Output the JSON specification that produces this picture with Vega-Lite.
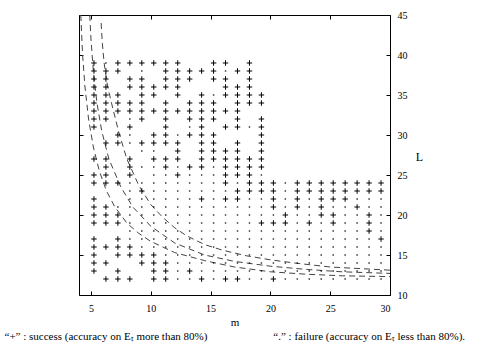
{
  "$schema": "https://vega.github.io/schema/vega-lite/v6.json",
  "width": 311,
  "height": 280,
  "autosize": "none",
  "padding": {"left": 79, "top": 15, "right": 97, "bottom": 50},
  "background": "white",
  "config": {
    "view": {"stroke": "black", "strokeWidth": 1},
    "font": "Liberation Serif",
    "axis": {"labelFont": "Liberation Serif", "titleFont": "Liberation Serif", "labelFontSize": 10, "labelColor": "black", "domain": false, "grid": false, "tickColor": "black", "tickWidth": 1, "titleFontWeight": "normal", "titleColor": "black"}
  },
  "title": {
    "text": "“+” : success (accuracy on Eₜ more than 80%)\u00a0\u00a0\u00a0\u00a0\u00a0\u00a0\u00a0\u00a0\u00a0\u00a0\u00a0\u00a0\u00a0\u00a0\u00a0\u00a0\u00a0\u00a0\u00a0\u00a0\u00a0\u00a0\u00a0\u00a0“.” : failure (accuracy on Eₜ less than 80%).",
    "orient": "bottom", "anchor": "start", "dx": -74, "offset": 4,
    "fontSize": 11, "font": "Liberation Serif", "fontWeight": "normal", "color": "black"
  },
  "datasets": {
    "curves": [
      {"c":"a","m":4.15,"L":45},{"c":"a","m":4.3,"L":40},{"c":"a","m":4.5,"L":36},{"c":"a","m":4.8,"L":32},{"c":"a","m":5.2,"L":28.5},{"c":"a","m":5.7,"L":25.5},{"c":"a","m":6.3,"L":23},{"c":"a","m":7,"L":21},{"c":"a","m":8,"L":19},{"c":"a","m":9,"L":17.7},{"c":"a","m":10,"L":16.7},{"c":"a","m":12,"L":15.3},{"c":"a","m":14.5,"L":14.3},{"c":"a","m":17,"L":13.5},{"c":"a","m":20,"L":12.9},{"c":"a","m":23,"L":12.6},{"c":"a","m":26,"L":12.4},{"c":"a","m":30,"L":12.3},
      {"c":"b","m":4.9,"L":45},{"c":"b","m":5.0,"L":42},{"c":"b","m":5.2,"L":38},{"c":"b","m":5.5,"L":34},{"c":"b","m":5.9,"L":30.5},{"c":"b","m":6.5,"L":27},{"c":"b","m":7.5,"L":23.5},{"c":"b","m":8.5,"L":21},{"c":"b","m":10,"L":18.6},{"c":"b","m":12,"L":16.5},{"c":"b","m":14.5,"L":15},{"c":"b","m":17,"L":14.2},{"c":"b","m":20,"L":13.6},{"c":"b","m":23,"L":13.2},{"c":"b","m":26,"L":12.9},{"c":"b","m":30,"L":12.7},
      {"c":"c","m":5.85,"L":44},{"c":"c","m":5.95,"L":41.5},{"c":"c","m":6.1,"L":39},{"c":"c","m":6.4,"L":36},{"c":"c","m":6.8,"L":33.5},{"c":"c","m":7.3,"L":30.5},{"c":"c","m":8,"L":27},{"c":"c","m":9,"L":23.7},{"c":"c","m":10,"L":21.3},{"c":"c","m":11,"L":19.7},{"c":"c","m":12,"L":18.4},{"c":"c","m":13,"L":17.4},{"c":"c","m":14.5,"L":16.3},{"c":"c","m":16,"L":15.6},{"c":"c","m":18,"L":14.9},{"c":"c","m":20,"L":14.4},{"c":"c","m":22,"L":14},{"c":"c","m":25,"L":13.5},{"c":"c","m":30,"L":13.1}
    ],
    "plus": [
      {"m":5,"L":39},{"m":7,"L":39},{"m":8,"L":39},{"m":9,"L":39},{"m":10,"L":39},{"m":11,"L":39},{"m":12,"L":39},{"m":15,"L":39},{"m":16,"L":39},{"m":18,"L":39},
      {"m":5,"L":38},{"m":6,"L":38},{"m":7,"L":38},{"m":11,"L":38},{"m":12,"L":38},{"m":13,"L":38},{"m":14,"L":38},{"m":15,"L":38},{"m":17,"L":38},{"m":18,"L":38},
      {"m":5,"L":37},{"m":6,"L":37},{"m":8,"L":37},{"m":9,"L":37},{"m":11,"L":37},{"m":12,"L":37},{"m":13,"L":37},{"m":15,"L":37},{"m":16,"L":37},{"m":18,"L":37},
      {"m":5,"L":36},{"m":6,"L":36},{"m":8,"L":36},{"m":9,"L":36},{"m":10,"L":36},{"m":11,"L":36},{"m":12,"L":36},{"m":16,"L":36},{"m":17,"L":36},{"m":18,"L":36},
      {"m":5,"L":35},{"m":6,"L":35},{"m":7,"L":35},{"m":9,"L":35},{"m":10,"L":35},{"m":12,"L":35},{"m":14,"L":35},{"m":16,"L":35},{"m":17,"L":35},{"m":18,"L":35},{"m":19,"L":35},
      {"m":5,"L":34},{"m":6,"L":34},{"m":7,"L":34},{"m":8,"L":34},{"m":9,"L":34},{"m":11,"L":34},{"m":13,"L":34},{"m":14,"L":34},{"m":15,"L":34},{"m":17,"L":34},{"m":18,"L":34},{"m":19,"L":34},
      {"m":5,"L":33},{"m":6,"L":33},{"m":7,"L":33},{"m":8,"L":33},{"m":9,"L":33},{"m":10,"L":33},{"m":11,"L":33},{"m":12,"L":33},{"m":13,"L":33},{"m":14,"L":33},{"m":15,"L":33},{"m":16,"L":33},{"m":17,"L":33},
      {"m":5,"L":32},{"m":6,"L":32},{"m":9,"L":32},{"m":11,"L":32},{"m":13,"L":32},{"m":14,"L":32},{"m":15,"L":32},{"m":17,"L":32},{"m":19,"L":32},
      {"m":5,"L":31},{"m":8,"L":31},{"m":11,"L":31},{"m":14,"L":31},{"m":16,"L":31},{"m":17,"L":31},{"m":19,"L":31},
      {"m":7,"L":30},{"m":10,"L":30},{"m":11,"L":30},{"m":13,"L":30},{"m":14,"L":30},{"m":15,"L":30},{"m":19,"L":30},
      {"m":6,"L":29},{"m":7,"L":29},{"m":9,"L":29},{"m":10,"L":29},{"m":11,"L":29},{"m":12,"L":29},{"m":14,"L":29},{"m":15,"L":29},{"m":17,"L":29},{"m":19,"L":29},
      {"m":12,"L":28},{"m":14,"L":28},{"m":15,"L":28},{"m":16,"L":28},{"m":17,"L":28},{"m":19,"L":28},
      {"m":5,"L":27},{"m":6,"L":27},{"m":8,"L":27},{"m":10,"L":27},{"m":11,"L":27},{"m":12,"L":27},{"m":14,"L":27},{"m":15,"L":27},{"m":16,"L":27},{"m":17,"L":27},{"m":18,"L":27},{"m":19,"L":27},
      {"m":6,"L":26},{"m":8,"L":26},{"m":11,"L":26},{"m":13,"L":26},{"m":14,"L":26},{"m":16,"L":26},{"m":17,"L":26},{"m":18,"L":26},{"m":19,"L":26},
      {"m":5,"L":25},{"m":6,"L":25},{"m":8,"L":25},{"m":12,"L":25},{"m":16,"L":25},{"m":17,"L":25},{"m":18,"L":25},
      {"m":5,"L":24},{"m":6,"L":24},{"m":7,"L":24},{"m":16,"L":24},{"m":18,"L":24},{"m":19,"L":24},{"m":20,"L":24},{"m":22,"L":24},{"m":23,"L":24},{"m":24,"L":24},{"m":25,"L":24},{"m":26,"L":24},{"m":27,"L":24},{"m":28,"L":24},{"m":29,"L":24},
      {"m":9,"L":23},{"m":17,"L":23},{"m":18,"L":23},{"m":19,"L":23},{"m":20,"L":23},{"m":22,"L":23},{"m":23,"L":23},{"m":24,"L":23},{"m":25,"L":23},{"m":26,"L":23},{"m":27,"L":23},{"m":28,"L":23},{"m":29,"L":23},
      {"m":5,"L":22},{"m":14,"L":22},{"m":16,"L":22},{"m":17,"L":22},{"m":20,"L":22},{"m":22,"L":22},{"m":24,"L":22},{"m":25,"L":22},{"m":26,"L":22},
      {"m":5,"L":21},{"m":6,"L":21},{"m":20,"L":21},{"m":22,"L":21},{"m":24,"L":21},{"m":27,"L":21},
      {"m":5,"L":20},{"m":6,"L":20},{"m":7,"L":20},{"m":21,"L":20},{"m":24,"L":20},{"m":25,"L":20},{"m":28,"L":20},
      {"m":5,"L":19},{"m":6,"L":19},{"m":7,"L":19},{"m":19,"L":19},{"m":20,"L":19},{"m":21,"L":19},{"m":23,"L":19},{"m":25,"L":19},{"m":28,"L":19},
      {"m":28,"L":18},
      {"m":5,"L":17},{"m":7,"L":17},{"m":29,"L":17},
      {"m":5,"L":16},{"m":6,"L":16},{"m":7,"L":16},{"m":8,"L":16},
      {"m":5,"L":15},{"m":7,"L":15},{"m":8,"L":15},{"m":9,"L":15},{"m":10,"L":15},
      {"m":5,"L":14},{"m":6,"L":14},{"m":9,"L":14},{"m":10,"L":14},{"m":11,"L":14},
      {"m":5,"L":13},{"m":7,"L":13},{"m":10,"L":13},{"m":11,"L":13},{"m":13,"L":13},
      {"m":6,"L":12},{"m":7,"L":12},{"m":8,"L":12},{"m":10,"L":12},{"m":11,"L":12},{"m":14,"L":12},{"m":16,"L":12},{"m":17,"L":12},{"m":20,"L":12}
    ],
    "dot": [
      {"m":6,"L":39},{"m":9,"L":38},{"m":16,"L":38},{"m":15,"L":35},{"m":8,"L":32},{"m":13,"L":31},{"m":18,"L":31},{"m":8,"L":30},{"m":12,"L":30},{"m":8,"L":29},{"m":9,"L":28},{"m":10,"L":28},
      {"m":9,"L":26},{"m":10,"L":26},{"m":12,"L":26},{"m":15,"L":26},
      {"m":10,"L":25},{"m":11,"L":25},{"m":13,"L":25},{"m":14,"L":25},{"m":15,"L":25},{"m":19,"L":25},
      {"m":8,"L":24},{"m":9,"L":24},{"m":10,"L":24},{"m":11,"L":24},{"m":12,"L":24},{"m":13,"L":24},{"m":14,"L":24},{"m":15,"L":24},{"m":17,"L":24},{"m":21,"L":24},
      {"m":8,"L":23},{"m":10,"L":23},{"m":11,"L":23},{"m":12,"L":23},{"m":13,"L":23},{"m":14,"L":23},{"m":15,"L":23},{"m":16,"L":23},{"m":21,"L":23},
      {"m":8,"L":22},{"m":9,"L":22},{"m":10,"L":22},{"m":11,"L":22},{"m":12,"L":22},{"m":13,"L":22},{"m":15,"L":22},{"m":18,"L":22},{"m":19,"L":22},{"m":21,"L":22},{"m":23,"L":22},{"m":27,"L":22},{"m":28,"L":22},{"m":29,"L":22},
      {"m":7,"L":21},{"m":8,"L":21},{"m":9,"L":21},{"m":10,"L":21},{"m":11,"L":21},{"m":12,"L":21},{"m":13,"L":21},{"m":14,"L":21},{"m":15,"L":21},{"m":16,"L":21},{"m":17,"L":21},{"m":18,"L":21},{"m":19,"L":21},{"m":21,"L":21},{"m":23,"L":21},{"m":25,"L":21},{"m":26,"L":21},{"m":28,"L":21},{"m":29,"L":21},
      {"m":8,"L":20},{"m":9,"L":20},{"m":10,"L":20},{"m":11,"L":20},{"m":12,"L":20},{"m":13,"L":20},{"m":14,"L":20},{"m":15,"L":20},{"m":16,"L":20},{"m":17,"L":20},{"m":18,"L":20},{"m":19,"L":20},{"m":20,"L":20},{"m":22,"L":20},{"m":23,"L":20},{"m":26,"L":20},{"m":27,"L":20},{"m":29,"L":20},
      {"m":8,"L":19},{"m":9,"L":19},{"m":10,"L":19},{"m":11,"L":19},{"m":12,"L":19},{"m":13,"L":19},{"m":14,"L":19},{"m":15,"L":19},{"m":16,"L":19},{"m":17,"L":19},{"m":18,"L":19},{"m":22,"L":19},{"m":24,"L":19},{"m":26,"L":19},{"m":27,"L":19},{"m":29,"L":19},
      {"m":8,"L":18},{"m":9,"L":18},{"m":10,"L":18},{"m":11,"L":18},{"m":12,"L":18},{"m":13,"L":18},{"m":14,"L":18},{"m":15,"L":18},{"m":16,"L":18},{"m":17,"L":18},{"m":18,"L":18},{"m":19,"L":18},{"m":20,"L":18},{"m":21,"L":18},{"m":22,"L":18},{"m":23,"L":18},{"m":24,"L":18},{"m":25,"L":18},{"m":26,"L":18},{"m":27,"L":18},{"m":29,"L":18},
      {"m":8,"L":17},{"m":9,"L":17},{"m":10,"L":17},{"m":11,"L":17},{"m":12,"L":17},{"m":13,"L":17},{"m":14,"L":17},{"m":15,"L":17},{"m":16,"L":17},{"m":17,"L":17},{"m":18,"L":17},{"m":19,"L":17},{"m":20,"L":17},{"m":21,"L":17},{"m":22,"L":17},{"m":23,"L":17},{"m":24,"L":17},{"m":25,"L":17},{"m":26,"L":17},{"m":27,"L":17},{"m":28,"L":17},
      {"m":9,"L":16},{"m":10,"L":16},{"m":11,"L":16},{"m":12,"L":16},{"m":13,"L":16},{"m":14,"L":16},{"m":15,"L":16},{"m":16,"L":16},{"m":17,"L":16},{"m":18,"L":16},{"m":19,"L":16},{"m":20,"L":16},{"m":21,"L":16},{"m":22,"L":16},{"m":23,"L":16},{"m":24,"L":16},{"m":25,"L":16},{"m":26,"L":16},{"m":27,"L":16},{"m":28,"L":16},{"m":29,"L":16},
      {"m":11,"L":15},{"m":12,"L":15},{"m":13,"L":15},{"m":14,"L":15},{"m":15,"L":15},{"m":16,"L":15},{"m":17,"L":15},{"m":18,"L":15},{"m":19,"L":15},{"m":20,"L":15},{"m":21,"L":15},{"m":22,"L":15},{"m":23,"L":15},{"m":24,"L":15},{"m":25,"L":15},{"m":26,"L":15},{"m":27,"L":15},{"m":28,"L":15},{"m":29,"L":15},
      {"m":12,"L":14},{"m":13,"L":14},{"m":14,"L":14},{"m":15,"L":14},{"m":16,"L":14},{"m":17,"L":14},{"m":18,"L":14},{"m":19,"L":14},{"m":20,"L":14},{"m":21,"L":14},{"m":22,"L":14},{"m":23,"L":14},{"m":24,"L":14},{"m":25,"L":14},{"m":26,"L":14},{"m":27,"L":14},{"m":28,"L":14},{"m":29,"L":14},
      {"m":12,"L":13},{"m":14,"L":13},{"m":15,"L":13},{"m":16,"L":13},{"m":17,"L":13},{"m":18,"L":13},{"m":19,"L":13},{"m":20,"L":13},{"m":21,"L":13},{"m":22,"L":13},{"m":23,"L":13},{"m":24,"L":13},{"m":25,"L":13},{"m":26,"L":13},{"m":27,"L":13},{"m":28,"L":13},{"m":29,"L":13},
      {"m":12,"L":12},{"m":13,"L":12},{"m":15,"L":12},{"m":18,"L":12},{"m":19,"L":12},{"m":21,"L":12},{"m":22,"L":12},{"m":23,"L":12},{"m":24,"L":12},{"m":25,"L":12},{"m":26,"L":12},{"m":27,"L":12},{"m":28,"L":12},{"m":29,"L":12}
    ]
  },
  "layer": [
    {
      "data": {"name": "curves"},
      "mark": {"type": "line", "strokeDash": [6, 4], "strokeWidth": 1, "color": "#444", "clip": true},
      "encoding": {
        "x": {"field": "m", "type": "quantitative", "scale": {"domain": [4, 30], "nice": false, "zero": false},
              "axis": {"orient": "bottom", "values": [5, 10, 15, 20, 25, 30], "tickSize": -4, "labelPadding": 12, "title": "m", "titleFontSize": 11, "titlePadding": 3}},
        "y": {"field": "L", "type": "quantitative", "scale": {"domain": [10, 45], "nice": false, "zero": false},
              "axis": {"orient": "right", "values": [10, 15, 20, 25, 30, 35, 40, 45], "tickSize": -4, "labelPadding": 11, "title": "L", "titleFontSize": 12, "titleAngle": 0, "titleX": 29, "titleY": 141, "titleAlign": "center", "titleBaseline": "middle"}},
        "detail": {"field": "c"}
      }
    },
    {
      "data": {"name": "plus"},
      "mark": {"type": "point", "shape": "M-1,0H1M0,-1V1", "size": 30, "stroke": "black", "strokeWidth": 1, "filled": false, "opacity": 1, "xOffset": 3},
      "encoding": {
        "x": {"field": "m", "type": "quantitative", "axis": {"orient": "top", "values": [5, 10, 15, 20, 25, 30], "tickSize": -4, "labels": false, "title": null}},
        "y": {"field": "L", "type": "quantitative", "axis": {"orient": "left", "values": [10, 15, 20, 25, 30, 35, 40, 45], "tickSize": -4, "labels": false, "title": null}}
      }
    },
    {
      "data": {"name": "dot"},
      "mark": {"type": "square", "size": 2, "color": "black", "opacity": 0.85, "xOffset": 3},
      "encoding": {
        "x": {"field": "m", "type": "quantitative", "axis": null},
        "y": {"field": "L", "type": "quantitative", "axis": null}
      }
    }
  ],
  "resolve": {"axis": {"x": "independent", "y": "independent"}}
}
